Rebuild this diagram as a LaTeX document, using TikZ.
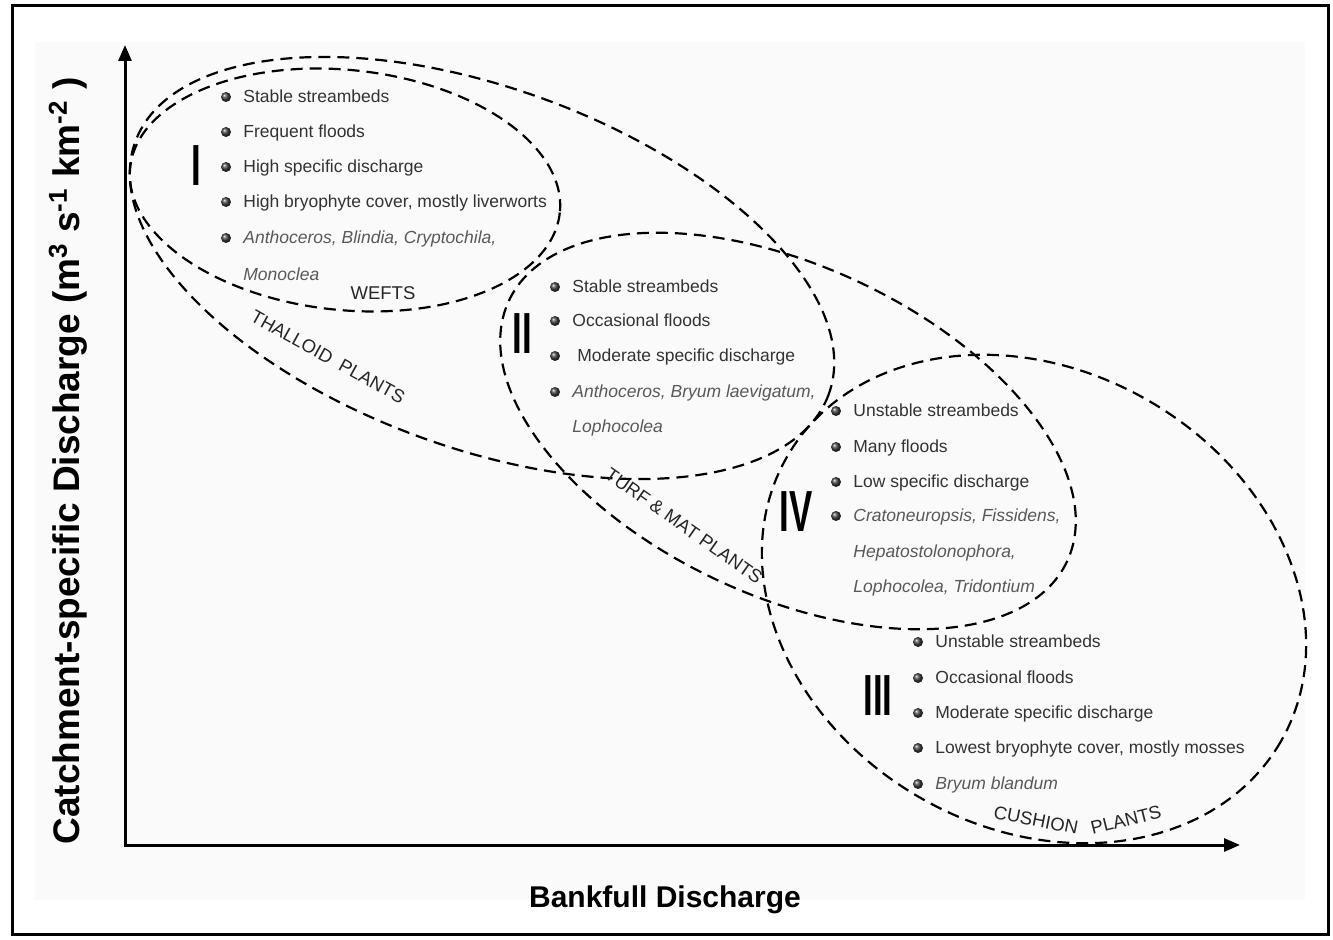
\documentclass[tikz,border=0pt]{standalone}
\usepackage{fontspec}
\setmainfont{Liberation Sans}
\usetikzlibrary{arrows.meta}
\newcommand{\lblfont}{\fontsize{8.75}{10}\selectfont}
\newcommand{\entry}[5][item]{\node[dot](#2d)at(#3-17,#4){};\node[#1](#2)at(#3,#4){#5};}

\begin{document}
\begin{tikzpicture}[x=0.5pt,y=-0.5pt,
  zone/.style={dash pattern=on 6pt off 3.5pt,line width=1.1pt},
  item/.style={anchor=mid west,inner sep=0pt,font=\lblfont,text=black!80},
  spec/.style={item,font=\lblfont\itshape,text=black!65},
  dot/.style={circle,inner sep=0pt,minimum size=5pt,ball color=black!75},
  numeral/.style={font=\bfseries\fontsize{29}{29}\selectfont,inner sep=0pt},
  tag/.style={inner sep=0pt,font=\fontsize{9.25}{10}\selectfont,text=black!85},
  axlbl/.style={font=\bfseries\fontsize{18.5}{20}\selectfont,inner sep=0pt}]
\useasboundingbox(0,0)rectangle(1333,940);
\fill[black!2](35,42)rectangle(1305,900);
\draw[line width=1.5pt](12,6)rectangle(1328,934);
% axes
\coordinate(o)at(125,845);\coordinate(ytip)at(125,45);\coordinate(xtip)at(1240,845);
\draw[line width=1.5pt,{Triangle[length=8pt,width=6.5pt]}-{Triangle[length=8pt,width=6.5pt]}](ytip)--(o)--(xtip);
\node[axlbl,rotate=90](ylab)at(68,461){Catchment-specific Discharge (m\textsuperscript{3} s\textsuperscript{-1} km\textsuperscript{-2} )};
\node[axlbl,font=\bfseries\fontsize{15}{17}\selectfont](xlab)at(665,900){Bankfull Discharge};
% growth-form zones
\draw[zone,rotate around={-6:(345,190)}](345,190)ellipse[x radius=216,y radius=120];
\draw[zone,rotate around={-20:(482,268)}](482,268)ellipse[x radius=369,y radius=180];
\draw[zone,rotate around={-25:(788,431)}](788,431)ellipse[x radius=308,y radius=165];
\draw[zone,rotate around={-30:(1034,599)}](1034,599)ellipse[x radius=285,y radius=229];
\node[tag](wefts)at(383,293){WEFTS};
\node[tag,rotate=-29](thal)at(328,357){THALLOID\ \ PLANTS};
\node[tag,rotate=-35](turf)at(684,526){TURF \& MAT PLANTS};
\node[tag,rotate=-11](cush)at(1036,820){CUSHION};\node[tag,rotate=14](cush2)at(1126,820){PLANTS};
% I
\node[numeral](n1)at(196,166){\scalebox{0.6}[1]{I}};
\entry{a1}{243}{97}{Stable streambeds}
\entry{a2}{243}{132}{Frequent floods}
\entry{a3}{243}{167}{High specific discharge}
\entry{a4}{243}{202}{High bryophyte cover, mostly liverworts}
\entry[spec]{a5}{243}{238}{Anthoceros, Blindia, Cryptochila,}
\node[spec](a6)at(243,275){Monoclea};
% II
\node[numeral](n2)at(522,334){\scalebox{0.6}[1]{II}};
\entry{b1}{572}{287}{Stable streambeds}
\entry{b2}{572}{321}{Occasional floods}
\entry{b3}{572}{356}{\ Moderate specific discharge}
\entry[spec]{b4}{572}{392}{Anthoceros, Bryum laevigatum,}
\node[spec](b5)at(572,427){Lophocolea};
% IV
\node[numeral](n4)at(796,512){\scalebox{0.6}[1]{IV}};
\entry{c1}{853}{411}{Unstable streambeds}
\entry{c2}{853}{447}{Many floods}
\entry{c3}{853}{482}{Low specific discharge}
\entry[spec]{c4}{853}{516}{Cratoneuropsis, Fissidens,}
\node[spec](c5)at(853,552){Hepatostolonophora,};
\node[spec](c6)at(853,587){Lophocolea, Tridontium};
% III
\node[numeral](n3)at(878,696){\scalebox{0.6}[1]{III}};
\entry{d1}{935}{642}{Unstable streambeds}
\entry{d2}{935}{678}{Occasional floods}
\entry{d3}{935}{713}{Moderate specific discharge}
\entry{d4}{935}{748}{Lowest bryophyte cover, mostly mosses}
\entry[spec]{d5}{935}{784}{Bryum blandum}
\end{tikzpicture}
\end{document}
